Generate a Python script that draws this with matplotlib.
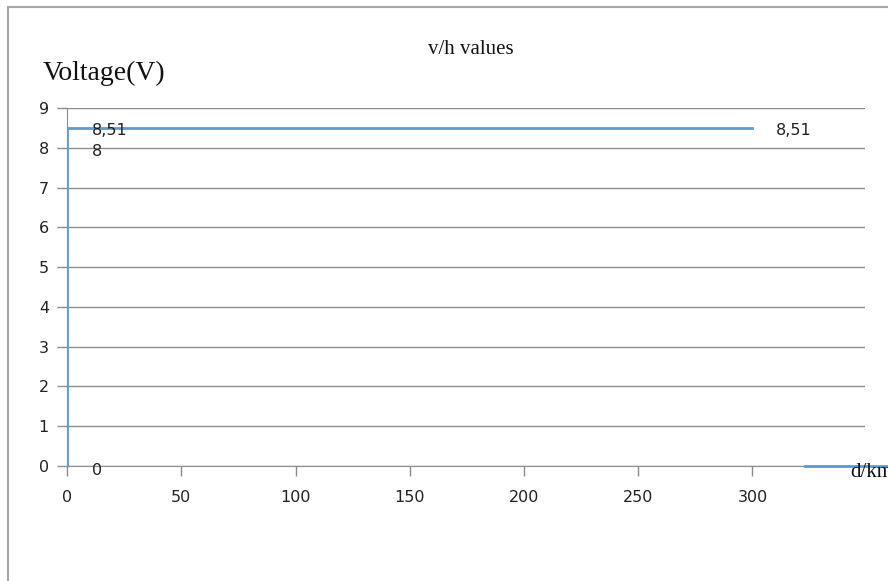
import matplotlib

matplotlib.use("Agg")
import matplotlib.pyplot as plt
from matplotlib.lines import Line2D

# data
dist = [0, 0, 0, 300]
volts = [0, 8, 8.51, 8.51]
point_labels = ["0", "8", "8,51", "8,51"]
tail_dist = [323, 360]
tail_volts = [0, 0]

x_ticks = [0, 50, 100, 150, 200, 250, 300]
y_ticks = list(range(10))

blue = "#5B9BD5"
grid_col = "#8C8C8C"
serif = "Liberation Serif"

fig = plt.figure(figsize=(8.88, 5.81), dpi=100)
ax = fig.add_axes([0.0755, 0.198, 0.899, 0.616])

ax.plot(dist, volts, color=blue, lw=2.0, solid_joinstyle="miter", zorder=3)
ax.plot(tail_dist, tail_volts, color=blue, lw=2.0, clip_on=False, zorder=3)

# data labels (to the right of the points)
offsets = [(18, -3.6), (18, -3), (18, -2), (17, -2)]
for x, y, lab, off in zip(dist, volts, point_labels, offsets):
    ax.annotate(lab, (x, y), xytext=off, textcoords="offset points",
                fontsize=11.5, color="#222222", va="center", ha="left")

ax.set_xlim(0, 349.4)
ax.set_ylim(0, 9)
ax.set_xticks(x_ticks)
ax.set_yticks(y_ticks)
ax.yaxis.grid(True, color=grid_col, lw=1.0)
ax.set_axisbelow(True)
for side in ["top", "right"]:
    ax.spines[side].set_visible(False)
ax.spines["left"].set_color(grid_col)
ax.spines["bottom"].set_color(grid_col)
ax.tick_params(axis="both", colors=grid_col, length=7, width=1.0,
               labelsize=11.5, labelcolor="#222222")
ax.tick_params(axis="x", pad=10)
ax.tick_params(axis="y", pad=6)

# Excel-style titles
fig.text(0.53, 0.915, "v/h values", family=serif, fontsize=15,
         ha="center", va="center", color="#111111")
fig.text(0.048, 0.874, "Voltage(V)", family=serif, fontsize=20,
         ha="left", va="center", color="#111111")
fig.text(0.957, 0.187, "d/km", family=serif, fontsize=15,
         ha="left", va="center", color="#111111")

# chart border, cut off on the right and bottom
fig.add_artist(Line2D([0.0095, 0.0095], [0.988, -0.1], color="#A6A6A6", lw=1.5,
                      transform=fig.transFigure))
fig.add_artist(Line2D([0.0095, 1.1], [0.988, 0.988], color="#A6A6A6", lw=1.5,
                      transform=fig.transFigure))

fig.savefig("out.png", dpi=100)
